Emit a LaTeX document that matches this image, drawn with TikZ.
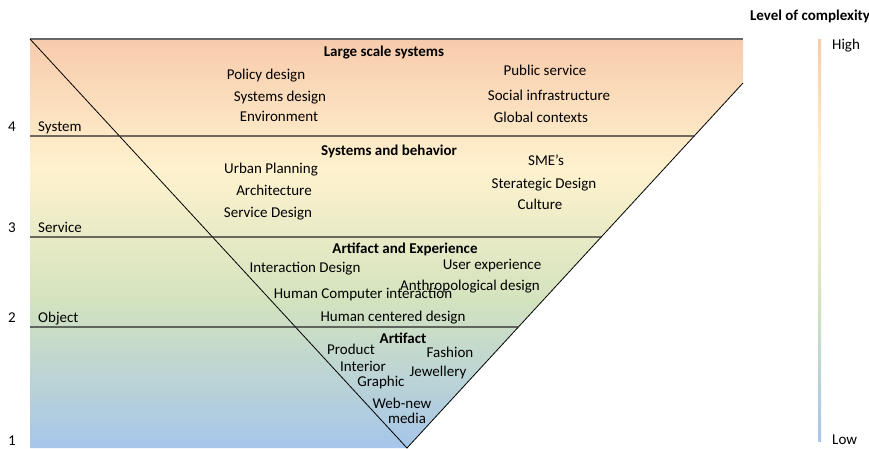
\documentclass[tikz,border=0pt]{standalone}
\usepackage{fontspec}
\setmainfont{Carlito}
\usetikzlibrary{positioning}

\definecolor{peach}{RGB}{247,203,172}
\definecolor{cream}{RGB}{255,242,206}
\definecolor{sage}{RGB}{211,227,190}
\definecolor{skyb}{RGB}{166,198,234}

\begin{document}
\begin{tikzpicture}[x=1pt,y=-1pt,font=\fontsize{15}{18}\selectfont,
        lbl/.style={anchor=base,inner sep=0pt},
        hdr/.style={lbl,font=\fontsize{15}{18}\selectfont\bfseries},
        side/.style={anchor=base west,inner sep=0pt},
        band/.style={line width=1.1pt,black!85}]
      \useasboundingbox (0,0) rectangle (869,448);

      \coordinate (TL) at (30,39);
      \coordinate (TR) at (743,39);
      \coordinate (RK) at (743,83);
      \coordinate (V)  at (407,448);

      % background
      \begin{scope}
        \clip (TL) -- (TR) -- (RK) -- (V) -- (30,448) -- cycle;
        \shade[top color=peach,bottom color=cream] (30,39) rectangle (743,170.5);
        \shade[top color=cream,bottom color=sage] (30,170) rectangle (743,300.5);
        \shade[top color=sage,bottom color=skyb] (30,300) rectangle (743,448);
      \end{scope}

      % levels
      \draw[line width=1.2pt,black!60] (TL) -- (TR);
      \draw[line width=0.8pt] (TL) -- (V) -- (RK);
      \foreach \y in {136,237,327}
        \draw[band] (30,\y) -- (intersection cs:first line={(30,\y)--(800,\y)},
                                               second line={(RK)--(V)});

      \node[lbl] (n4) at (12,131) {4};
      \node[side] (sys) at (38,131) {System};
      \node[lbl] (n3) at (12,232) {3};
      \node[side] (serv) at (38,232) {Service};
      \node[lbl] (n2) at (12,322) {2};
      \node[side] (obj) at (38,322) {Object};
      \node[lbl] (n1) at (12,445) {1};

      % large scale systems
      \node[hdr] (large) at (384,56) {Large scale systems};
      \node[lbl] (policy) at (266,79) {Policy design};
      \node[lbl] (sysd) at (280,101) {Systems design};
      \node[lbl] (env) at (279,121) {Environment};
      \node[lbl] (public) at (545,75) {Public service};
      \node[lbl] (social) at (549,100) {Social infrastructure};
      \node[lbl] (global) at (541,122) {Global contexts};

      % systems and behavior
      \node[hdr] (behav) at (389,155) {Systems and behavior};
      \node[lbl] (urban) at (271,173) {Urban Planning};
      \node[lbl] (arch) at (274,195) {Architecture};
      \node[lbl] (servd) at (268,217) {Service Design};
      \node[lbl] (sme) at (546,165) {SME’s};
      \node[lbl] (strat) at (544,188) {Sterategic Design};
      \node[lbl] (cult) at (540,209) {Culture};

      % artifact and experience
      \node[hdr] (artexp) at (405,253) {Artifact and Experience};
      \node[lbl] (inter) at (305,272) {Interaction Design};
      \node[lbl] (user) at (492,269) {User experience};
      \node[lbl] (anthro) at (470,290) {Anthropological design};
      \node[lbl] (hci) at (363,298) {Human Computer interaction};
      \node[lbl] (hcd) at (393,321) {Human centered design};

      % artifact
      \node[hdr] (art) at (403,343) {Artifact};
      \node[lbl] (prod) at (351,354) {Product};
      \node[lbl] (fash) at (450,357) {Fashion};
      \node[lbl] (inte) at (363,371) {Interior};
      \node[lbl] (jew) at (438,376) {Jewellery};
      \node[lbl] (graph) at (381,386) {Graphic};
      \node[lbl] (web) at (402,408) {Web-new};
      \node[lbl] (media) at (407,423) {media};

      % complexity scale
      \node[hdr] (level) at (810,20) {Level of complexity};
      \shade[top color=peach,bottom color=cream] (818,39) rectangle (821,170.5);
      \shade[top color=cream,bottom color=sage] (818,170) rectangle (821,300.5);
      \shade[top color=sage,bottom color=skyb] (818,300) rectangle (821,441);
      \node[side] (high) at (832,49) {High};
      \node[side] (low) at (832,444) {Low};
\end{tikzpicture}
\end{document}
